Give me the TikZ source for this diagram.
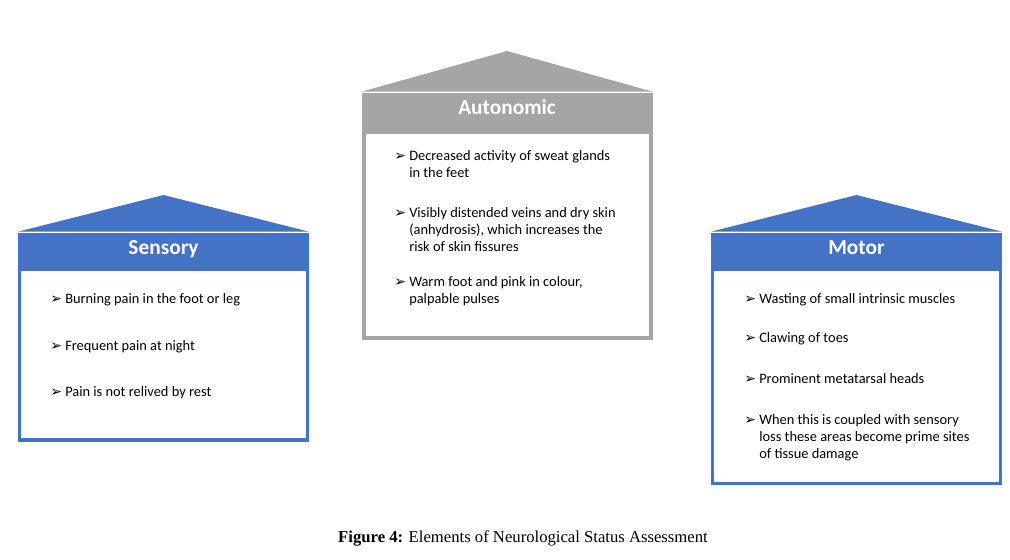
\documentclass[tikz,border=0pt]{standalone}
\usepackage{fontspec}
\setmainfont{Carlito}
\newfontfamily\capfont{Liberation Serif}
\newfontfamily\symfont{DejaVu Sans}
\usetikzlibrary{fit}

\definecolor{hdblue}{HTML}{4472C4}
\definecolor{hdgray}{HTML}{A5A5A5}

\newcommand{\bul}{\makebox[11.25pt][l]{\symfont\fontsize{10.5}{12}\selectfont ➢}}
\newcommand{\itm}[1]{\bul\begin{tabular}[t]{@{}l@{}}#1\end{tabular}}

\begin{document}
\begin{tikzpicture}[x=0.75pt,y=-0.75pt,
  head/.style={fill=#1,inner sep=0pt},
  body/.style={draw=#1,inner sep=0pt},
  title/.style={anchor=base,text=white,font=\bfseries\fontsize{16}{19}\selectfont},
  item/.style={anchor=base west,inner sep=0pt,font=\fontsize{10.8}{13}\selectfont}]
\path[use as bounding box,fill=white] (0,0) rectangle (1010,560);

% Sensory
\node[head=hdblue,fit={(18,233) (309,270.5)}] (sens-head) {};
\coordinate (sens-top) at (163.5,195);
\fill[hdblue] ([yshift=0.75pt]sens-head.north west) -- (sens-top) -- ([yshift=0.75pt]sens-head.north east) -- cycle;
\node[body=hdblue,line width=2.6pt,fit={(19.75,268.5) (307.25,440)}] (sens-body) {};
\node[title] (sens-title) at (163.5,254) {Sensory};
\node[item] (sens-a) at (50,303) {\itm{Burning pain in the foot or leg}};
\node[item] (sens-b) at (50,350) {\itm{Frequent pain at night}};
\node[item] (sens-c) at (50,396) {\itm{Pain is not relived by rest}};

% Autonomic
\node[head=hdgray,fit={(361.7,93) (652.7,134)}] (auto-head) {};
\coordinate (auto-top) at (507,51);
\fill[hdgray] ([yshift=0.75pt]auto-head.north west) -- (auto-top) -- ([yshift=0.75pt]auto-head.north east) -- cycle;
\node[body=hdgray,line width=3pt,fit={(363.7,132) (650.7,338)}] (auto-body) {};
\node[title] (auto-title) at (507,114) {Autonomic};
\node[item] (auto-a) at (394,160) {\itm{Decreased activity of sweat glands\\in the feet}};
\node[item] (auto-b) at (394,217) {\itm{Visibly distended veins and dry skin\\(anhydrosis), which increases the\\risk of skin fissures}};
\node[item] (auto-c) at (394,286) {\itm{Warm foot and pink in colour,\\palpable pulses}};

% Motor
\node[head=hdblue,fit={(711,233) (1002,270.7)}] (mot-head) {};
\coordinate (mot-top) at (856.5,195);
\fill[hdblue] ([yshift=0.75pt]mot-head.north west) -- (mot-top) -- ([yshift=0.75pt]mot-head.north east) -- cycle;
\node[body=hdblue,line width=2.6pt,fit={(712.75,269) (1000.25,483.25)}] (mot-body) {};
\node[title] (mot-title) at (856.5,254) {Motor};
\node[item] (mot-a) at (744,303) {\itm{Wasting of small intrinsic muscles}};
\node[item] (mot-b) at (744,342) {\itm{Clawing of toes}};
\node[item] (mot-c) at (744,383) {\itm{Prominent metatarsal heads}};
\node[item] (mot-d) at (744,424) {\itm{When this is coupled with sensory\\loss these areas become prime sites\\of tissue damage}};

% caption
\node[font=\capfont\fontsize{12.5}{15}\selectfont] (caption) at (523,538) {\textbf{Figure 4:} Elements of Neurological Status Assessment};
\end{tikzpicture}
\end{document}
